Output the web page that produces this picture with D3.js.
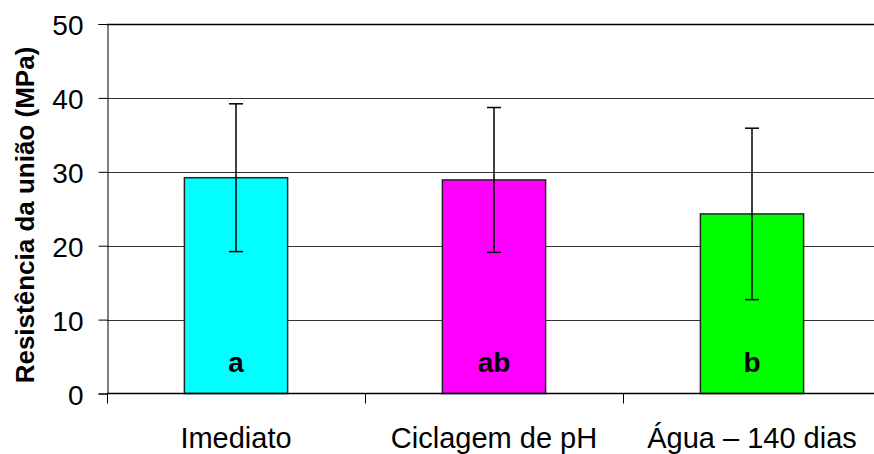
<!DOCTYPE html>
<html>
<head>
<meta charset="utf-8">
<script src="https://cdn.jsdelivr.net/npm/d3@7"></script>
<style>
  body{margin:0;background:#fff;}
  text{font-family:"Liberation Sans",Arial,sans-serif;}
</style>
</head>
<body>
<svg id="chart" width="874" height="454"></svg>
<script>
// data
const categories = ['Imediato', 'Ciclagem de pH', 'Água – 140 dias'];
const means = [29.2, 28.9, 24.3];
const sds = [10.0, 9.8, 11.6];
const letters = ['a', 'ab', 'b'];
const colors = ['#00ffff', '#ff00ff', '#00ff00'];
const yTicks = [0, 10, 20, 30, 40, 50];

const svg = d3.select('#chart');
const plotLeft = 107, plotRight = 881, plotTop = 24, plotBottom = 393.5;

const x = d3.scaleBand().domain(categories).range([plotLeft, plotRight]).paddingInner(0.6).paddingOuter(0.3);
const y = d3.scaleLinear().domain([0, 50]).range([plotBottom, plotTop]);

// gridlines
svg.append('g')
    .selectAll('line')
    .data(yTicks.filter(d => d > 0))
    .join('line')
    .attr('x1', plotLeft).attr('x2', plotRight)
    .attr('y1', d => Math.round(y(d)) + 0.5).attr('y2', d => Math.round(y(d)) + 0.5)
    .attr('stroke', d => d === 50 ? '#000' : '#333')
    .attr('stroke-width', d => d === 50 ? 1.5 : 1);

// y axis
const yAxis = svg.append('g')
    .attr('transform', `translate(${plotLeft + 0.5},0)`)
    .call(d3.axisLeft(y).tickValues(yTicks).tickSize(9).tickPadding(15));
yAxis.select('.domain').attr('stroke', '#000');
yAxis.selectAll('.tick line').attr('stroke', '#000');
yAxis.selectAll('.tick text')
    .attr('font-size', 28)
    .attr('dy', '0.38em')
    .attr('fill', '#000')
    .style('font-family', '"Liberation Sans",Arial,sans-serif');

// category ticks on x axis
const step = (plotRight - plotLeft) / categories.length;
svg.append('g')
    .selectAll('line')
    .data(d3.range(categories.length + 1))
    .join('line')
    .attr('x1', i => Math.round(plotLeft + i * step) + 0.5).attr('x2', i => Math.round(plotLeft + i * step) + 0.5)
    .attr('y1', plotBottom).attr('y2', plotBottom + 10)
    .attr('stroke', '#000');

// bars
svg.append('g')
    .selectAll('rect')
    .data(categories)
    .join('rect')
    .attr('x', d => x(d))
    .attr('y', (d, i) => y(means[i]))
    .attr('width', x.bandwidth())
    .attr('height', (d, i) => plotBottom - y(means[i]))
    .attr('fill', (d, i) => colors[i])
    .attr('stroke', '#222')
    .attr('stroke-width', 1.5);

// x axis line
svg.append('line')
    .attr('x1', plotLeft).attr('x2', plotRight)
    .attr('y1', plotBottom).attr('y2', plotBottom)
    .attr('stroke', '#000').attr('stroke-width', 1.5);

// error bars
const eb = svg.append('g').attr('stroke', '#000').attr('stroke-width', 1.5);
categories.forEach((c, i) => {
    const cx = x(c) + x.bandwidth() / 2;
    eb.append('line').attr('x1', cx).attr('x2', cx)
        .attr('y1', y(means[i] + sds[i])).attr('y2', y(means[i] - sds[i]));
    [means[i] + sds[i], means[i] - sds[i]].forEach(v => {
        eb.append('line').attr('x1', cx - 7).attr('x2', cx + 7)
            .attr('y1', y(v)).attr('y2', y(v));
    });
});

// significance letters
svg.append('g')
    .selectAll('text')
    .data(categories)
    .join('text')
    .attr('x', d => x(d) + x.bandwidth() / 2)
    .attr('y', 372)
    .attr('text-anchor', 'middle')
    .attr('font-size', 28)
    .attr('font-weight', 'bold')
    .text((d, i) => letters[i]);

// category labels
svg.append('g')
    .selectAll('text')
    .data(categories)
    .join('text')
    .attr('x', d => x(d) + x.bandwidth() / 2)
    .attr('y', 448)
    .attr('text-anchor', 'middle')
    .attr('font-size', 29)
    .text(d => d);

// y title
svg.append('text')
    .attr('transform', `translate(34,215) rotate(-90)`)
    .attr('text-anchor', 'middle')
    .attr('font-size', 26)
    .attr('font-weight', 'bold')
    .text('Resistência da união (MPa)');
</script>
</body>
</html>
